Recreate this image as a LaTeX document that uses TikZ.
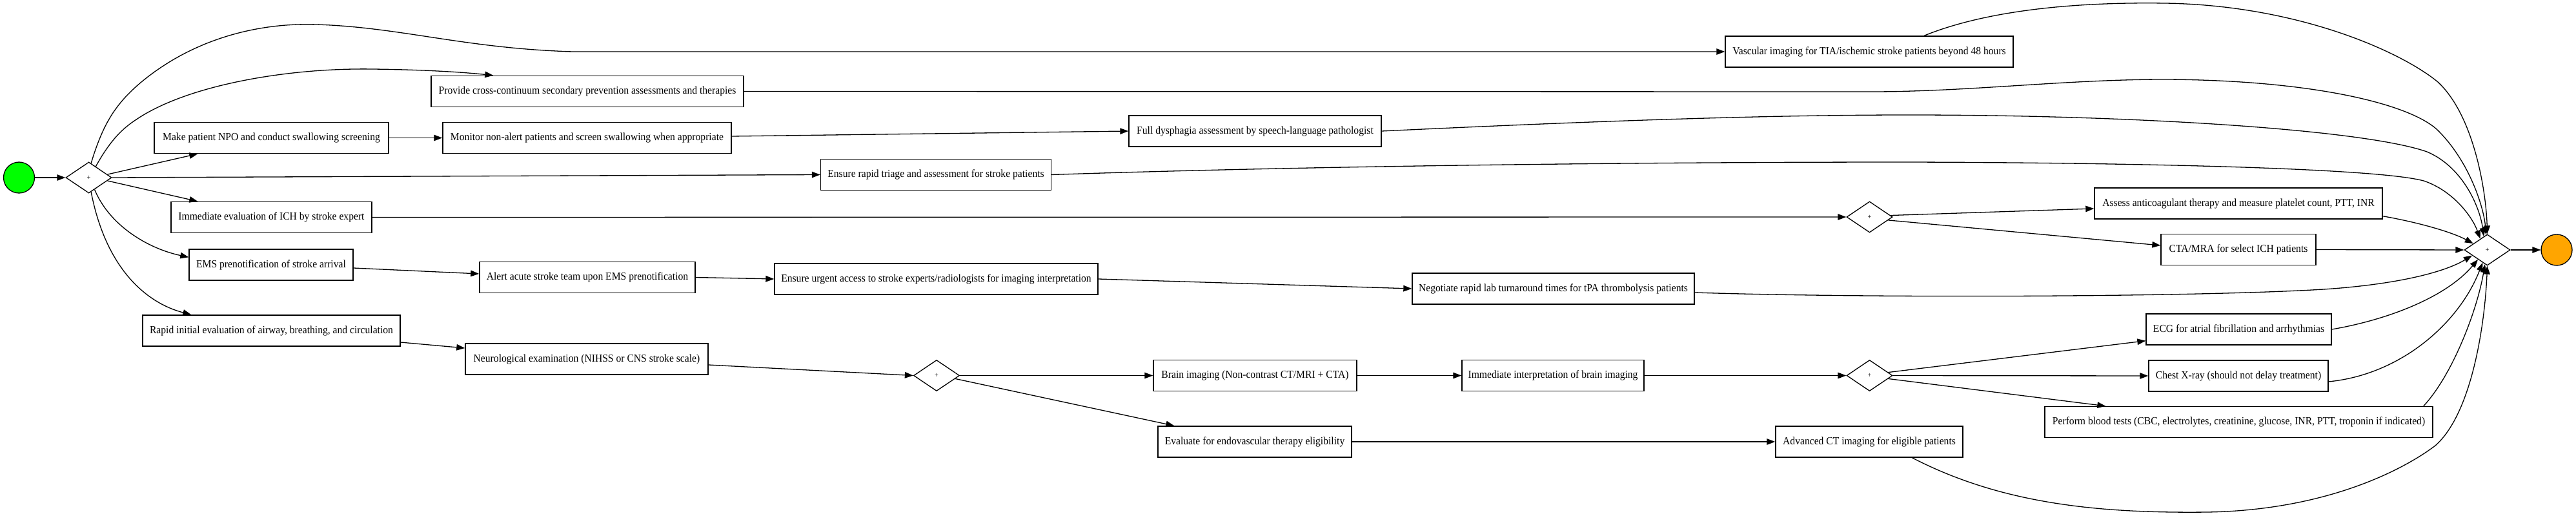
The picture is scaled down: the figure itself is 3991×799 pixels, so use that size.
\documentclass[tikz,border=0pt]{standalone}
\usepackage{fontspec}
\setmainfont{Liberation Serif}[FakeStretch=0.93]
\usetikzlibrary{shapes.geometric,arrows.meta,calc}
\begin{document}
\begin{tikzpicture}[x=1pt,y=-1pt,
  task/.style={draw,rectangle,line width=1.4pt,minimum height=48pt,inner sep=0pt,font=\fontsize{16.8}{20}\selectfont},
  gate/.style={draw,diamond,line width=1.3pt,minimum width=71pt,minimum height=48pt,inner sep=0pt,font=\fontsize{11}{13}\selectfont},
  flow/.style={line width=1.3pt,-{Triangle[length=13pt,width=9.5pt]}},
  ev/.style={draw,circle,line width=1.3pt,minimum size=48pt,inner sep=0pt}]
\useasboundingbox (0,0) rectangle (3991,799);
\definecolor{startgreen}{RGB}{0,255,0}
\definecolor{endorange}{RGB}{255,165,0}

\node[ev,fill=startgreen] (start) at (29.5,275) {};
\node[gate] (split) at (137.5,275) {+};
\node[task,minimum width=446pt] (vasc) at (2896,80) {Vascular imaging for TIA/ischemic stroke patients beyond 48 hours};
\node[task,minimum width=484pt] (prov) at (910,141.5) {Provide cross-continuum secondary prevention assessments and therapies};
\node[task,minimum width=363pt] (npo) at (420.5,213.5) {Make patient NPO and conduct swallowing screening};
\node[task,minimum width=447pt] (mon) at (909.5,213.5) {Monitor non-alert patients and screen swallowing when appropriate};
\node[task,minimum width=391pt] (dys) at (1944.5,203) {Full dysphagia assessment by speech-language pathologist};
\node[task,minimum width=357pt] (tri) at (1450,270.5) {Ensure rapid triage and assessment for stroke patients};
\node[task,minimum width=311pt] (ich) at (420.5,336.5) {Immediate evaluation of ICH by stroke expert};
\node[gate] (gw1) at (2896.5,336) {+};
\node[task,minimum width=446pt] (ant) at (3468,315) {Assess anticoagulant therapy and measure platelet count, PTT, INR};
\node[task,minimum width=240pt] (cta) at (3468,386.5) {CTA/MRA for select ICH patients};
\node[gate] (join) at (3853.5,387) {+};
\node[ev,fill=endorange] (end) at (3961,387) {};
\node[task,minimum width=254pt] (ems) at (420,410) {EMS prenotification of stroke arrival};
\node[task,minimum width=334pt] (alert) at (910,429.5) {Alert acute stroke team upon EMS prenotification};
\node[task,minimum width=501pt] (urg) at (1450.5,432) {Ensure urgent access to stroke experts/radiologists for imaging interpretation};
\node[task,minimum width=437pt] (neg) at (2406.5,447) {Negotiate rapid lab turnaround times for tPA thrombolysis patients};
\node[task,minimum width=399pt] (rapid) at (420.5,512) {Rapid initial evaluation of airway, breathing, and circulation};
\node[task,minimum width=376pt] (neuro) at (909,556) {Neurological examination (NIHSS or CNS stroke scale)};
\node[gate] (gw2) at (1451,581.5) {+};
\node[task,minimum width=315pt] (brain) at (1944.5,581.5) {Brain imaging (Non-contrast CT/MRI + CTA)};
\node[task,minimum width=282pt] (interp) at (2406,581.5) {Immediate interpretation of brain imaging};
\node[gate] (gw3) at (2896.5,581.5) {+};
\node[task,minimum width=287pt] (ecg) at (3468.5,510) {ECG for atrial fibrillation and arrhythmias};
\node[task,minimum width=278pt] (chest) at (3468,582) {Chest X-ray (should not delay treatment)};
\node[task,minimum width=601pt] (blood) at (3468.5,653.5) {Perform blood tests (CBC, electrolytes, creatinine, glucose, INR, PTT, troponin if indicated)};
\node[task,minimum width=300pt] (endo) at (1944,684) {Evaluate for endovascular therapy eligibility};
\node[task,minimum width=290pt] (adv) at (2896,684) {Advanced CT imaging for eligible patients};

% from start and split
\draw[flow] (start) -- (split);
\draw[flow] ($(split.north)!0.1!(split.east)$) .. controls (160,190) and (180,160) .. (219,127) .. controls (300,60) and (400,35) .. (490,38) .. controls (620,42) and (720,75) .. (887,80) -- (vasc.west);
\draw[flow] ($(split.north)!0.3!(split.east)$) .. controls (175,210) and (195,195) .. (219,180) .. controls (300,130) and (450,105) .. (577,107) .. controls (660,108) and (720,112) .. ([xshift=97pt]prov.north west);
\draw[flow] ($(split.north)!0.8!(split.east)$) -- ([xshift=68pt]npo.south west);
\draw[flow] (split.east) -- (tri.west);
\draw[flow] ($(split.east)!0.2!(split.south)$) -- ([xshift=42pt]ich.north west);
\draw[flow] ($(split.east)!0.75!(split.south)$) .. controls (170,350) and (230,385) .. ([yshift=-13pt]ems.north west);
\draw[flow] ($(split.east)!0.9!(split.south)$) .. controls (165,420) and (230,470) .. ([xshift=76pt]rapid.north west);

% chains
\draw[flow] (npo.east) -- (mon.west);
\draw[flow] ([yshift=2.5pt]mon.east) -- (dys.west);
\draw[flow] ([yshift=-5pt]ems.east) -- ([yshift=5.5pt]alert.west);
\draw[flow] (alert.east) -- (urg.west);
\draw[flow] (urg.east) -- (neg.west);
\draw[flow] ([yshift=-18pt]rapid.east) -- ([yshift=17pt]neuro.west);
\draw[flow] ([yshift=-9pt]neuro.east) -- (gw2.west);
\draw[flow] (gw2.east) -- (brain.west);
\draw[flow] ($(gw2.east)!0.2!(gw2.south)$) -- ([xshift=26pt]endo.north west);
\draw[flow] (brain.east) -- (interp.west);
\draw[flow] (interp.east) -- (gw3.west);
\draw[flow] ($(gw3.north)!0.8!(gw3.east)$) -- ([yshift=7pt]ecg.south west);
\draw[flow] (gw3.east) -- (chest.west);
\draw[flow] ($(gw3.east)!0.2!(gw3.south)$) -- ([xshift=95pt]blood.north west);
\draw[flow] (endo.east) -- (adv.west);
\draw[flow] (ich.east) -- (gw1.west);
\draw[flow] ($(gw1.north)!0.9!(gw1.east)$) -- ([yshift=-8pt]ant.west);
\draw[flow] ($(gw1.east)!0.2!(gw1.south)$) -- ([yshift=6.5pt]cta.west);

% into join
\draw[flow] ([xshift=85pt]vasc.north) .. controls (3080,15) and (3220,3) .. (3354,5) .. controls (3560,8) and (3720,80) .. (3777,127) .. controls (3834,180) and (3852,300) .. (join.north);
\draw[flow] (prov.east) -- (2900,142) .. controls (3050,142) and (3200,123) .. (3354,123) .. controls (3580,124) and (3730,160) .. (3775,200) .. controls (3825,248) and (3848,320) .. ($(join.north)!0.05!(join.west)$);
\draw[flow] (dys.east) .. controls (2500,186) and (2750,178) .. (2957,178) .. controls (3300,178) and (3660,200) .. (3760,235) .. controls (3815,258) and (3842,320) .. ($(join.north)!0.15!(join.west)$);
\draw[flow] (tri.east) .. controls (2000,258) and (2500,251) .. (2957,251) .. controls (3300,252) and (3680,260) .. (3755,280) .. controls (3800,295) and (3830,335) .. ($(join.north)!0.3!(join.west)$);
\draw[flow] ([yshift=5pt]ant.south east) .. controls (3750,345) and (3800,360) .. ($(join.north)!0.6!(join.west)$);
\draw[flow] (cta.east) -- (join.west);
\draw[flow] ([yshift=-6pt]neg.east) .. controls (2900,462) and (3400,460) .. (3600,448) .. controls (3720,440) and (3790,420) .. ($(join.west)!0.35!(join.south)$);
\draw[flow] (ecg.east) .. controls (3700,495) and (3790,460) .. ($(join.west)!0.6!(join.south)$);
\draw[flow] ([yshift=-9pt]chest.east) .. controls (3720,580) and (3810,500) .. ($(join.west)!0.8!(join.south)$);
\draw[flow] ([xshift=-15pt]blood.north east) .. controls (3800,580) and (3838,480) .. ($(join.west)!0.9!(join.south)$);
\draw[flow] ([xshift=212pt]adv.south west) .. controls (3100,780) and (3250,795) .. (3420,793) .. controls (3600,790) and (3720,730) .. (3773,690) .. controls (3830,640) and (3850,500) .. (join.south);
\draw[flow] (join.east) -- (end.west);
\end{tikzpicture}
\end{document}
